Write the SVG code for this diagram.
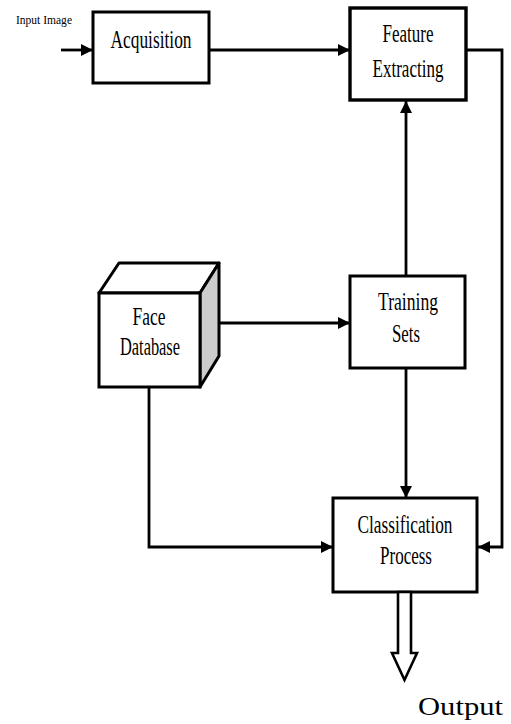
<svg xmlns="http://www.w3.org/2000/svg" width="511" height="724" viewBox="0 0 511 724">
<defs>
<style>
.box{fill:#fff;stroke:#000;stroke-width:3}
.lbl{font-family:"Liberation Serif","Times New Roman",serif;font-size:25px;fill:#000;text-anchor:middle}
.conn{fill:none;stroke:#000;stroke-width:2.8}
</style>
<marker id="ah" viewBox="0 0 10 10" refX="10" refY="5" markerWidth="12" markerHeight="12" markerUnits="userSpaceOnUse" orient="auto">
<path d="M0,0 L10,5 L0,10 z" fill="#000"/>
</marker>
</defs>
<rect width="511" height="724" fill="#fff"/>
<text x="16" y="24" style="font-family:'Liberation Serif','Times New Roman',serif;font-size:13px" textLength="56" lengthAdjust="spacingAndGlyphs">Input Image</text>
<g id="connectors">
<path class="conn" d="M61,50 L93,50" marker-end="url(#ah)"/>
<path class="conn" d="M209,50 L350,50" marker-end="url(#ah)"/>
<path class="conn" d="M466,50 L502,50 L502,547 L478,547" marker-end="url(#ah)"/>
<path class="conn" d="M406,276 L406,101" marker-end="url(#ah)"/>
<path class="conn" d="M208,323 L350,323" marker-end="url(#ah)"/>
<path class="conn" d="M406,368 L406,498" marker-end="url(#ah)"/>
<path class="conn" d="M149,387 L149,547 L333,547" marker-end="url(#ah)"/>
</g>
<g id="acquisition">
<rect class="box" x="93" y="12" width="116" height="71"/>
<text class="lbl" x="151" y="48" textLength="81" lengthAdjust="spacingAndGlyphs">Acquisition</text>
</g>
<g id="feature">
<rect class="box" x="350" y="8" width="116" height="92" style="stroke-width:3.4"/>
<text class="lbl" x="408" y="42" textLength="51" lengthAdjust="spacingAndGlyphs">Feature</text>
<text class="lbl" x="408" y="77" textLength="71" lengthAdjust="spacingAndGlyphs">Extracting</text>
</g>
<g id="face-database">
<polygon points="99,293 119,263 219,263 200,293" fill="#fff" stroke="#000" stroke-width="3" stroke-linejoin="round"/>
<polygon points="200,293 219,263 219,356 200,387" fill="#cccccc" stroke="#000" stroke-width="3" stroke-linejoin="round"/>
<rect class="box" x="99" y="293" width="101" height="94"/>
<text class="lbl" x="149" y="325" textLength="33" lengthAdjust="spacingAndGlyphs">Face</text>
<text class="lbl" x="150" y="355" textLength="60" lengthAdjust="spacingAndGlyphs">Database</text>
</g>
<g id="training">
<rect class="box" x="350" y="276" width="115" height="92"/>
<text class="lbl" x="408" y="310" textLength="60" lengthAdjust="spacingAndGlyphs">Training</text>
<text class="lbl" x="406" y="342" textLength="28" lengthAdjust="spacingAndGlyphs">Sets</text>
</g>
<g id="classification">
<rect class="box" x="333" y="498" width="144" height="94"/>
<text class="lbl" x="405" y="533" textLength="95" lengthAdjust="spacingAndGlyphs">Classification</text>
<text class="lbl" x="406" y="564" textLength="52" lengthAdjust="spacingAndGlyphs">Process</text>
</g>
<g id="output">
<path d="M398,592 L398,653 L392,653 L404.5,680 L417,653 L411,653 L411,592 Z" fill="#fff" stroke="#000" stroke-width="2.6" stroke-linejoin="miter"/>
<text x="418" y="715" style="font-family:'Liberation Serif','Times New Roman',serif;font-size:26px" textLength="85" lengthAdjust="spacingAndGlyphs">Output</text>
</g>
</svg>
